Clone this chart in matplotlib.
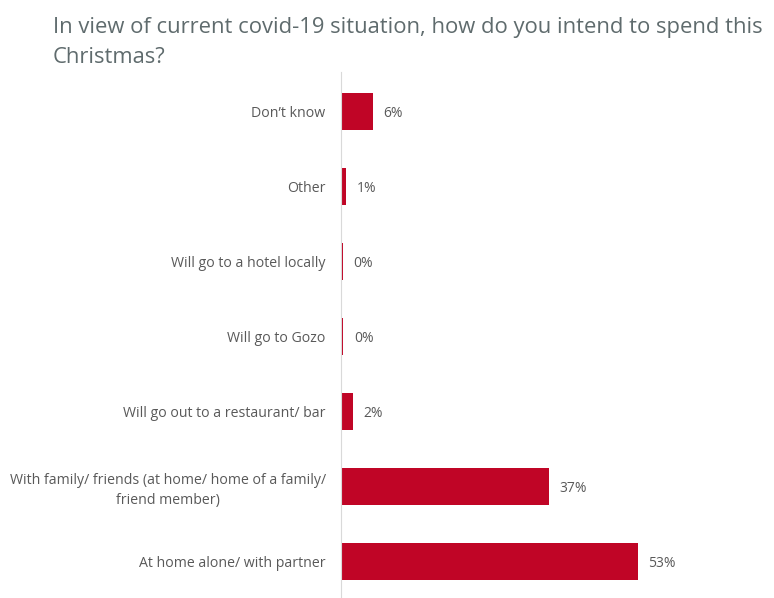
import matplotlib.pyplot as plt

categories = ["At home alone/ with partner",
              "With family/ friends (at home/ home of a family/\nfriend member)",
              "Will go out to a restaurant/ bar",
              "Will go to Gozo",
              "Will go to a hotel locally",
              "Other",
              "Don\u2019t know"]
values = [53.0, 37.1, 2.1, 0.4, 0.3, 0.9, 5.7]
labels = ["53%", "37%", "2%", "0%", "0%", "1%", "6%"]

plt.rcParams['font.family'] = ['Open Sans', 'DejaVu Sans']

fig = plt.figure(figsize=(7.74, 5.98), dpi=100)
ax = fig.add_axes([341 / 774, 0, 420 / 774, 526 / 598])

pos = list(range(len(categories)))
ax.barh(pos, values, height=0.5, color='#C00526')
for p, v, t in zip(pos, values, labels):
    ax.text(v + 1.9, p, t, va='center_baseline', ha='left', fontsize=10, color='#595959')

ax.set_xlim(0, 75)
ax.set_ylim(-0.49, 6.53)
ax.set_yticks(pos)
ax.set_yticklabels(categories, fontsize=10.2, color='#595959', linespacing=1.45)
ax.tick_params(axis='y', length=0, pad=11)
for lab in ax.get_yticklabels():
    lab.set_multialignment('center')
ax.set_xticks([])
for s in ['top', 'right', 'bottom']:
    ax.spines[s].set_visible(False)
ax.spines['left'].set_color('#D9D9D9')

title_lines = ["In view of current covid-19 situation, how do you intend to spend this",
               "Christmas?"]
fig.text(53 / 774, 1 - 33 / 598, title_lines[0], fontsize=15.8, color='#5F6B6D',
         va='baseline', ha='left')
fig.text(53 / 774, 1 - 63 / 598, title_lines[1], fontsize=15.8, color='#5F6B6D',
         va='baseline', ha='left')

fig.savefig('out.png', dpi=100)
